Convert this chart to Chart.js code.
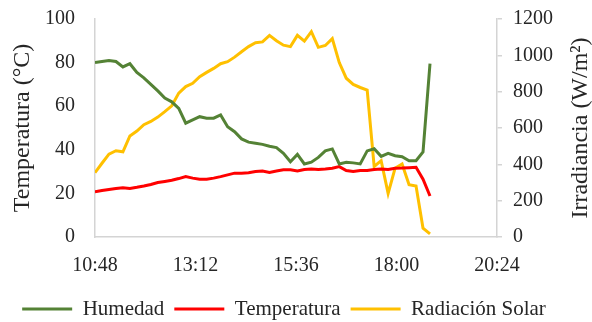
<!DOCTYPE html>
<html>
<head>
<meta charset="utf-8">
<script src="https://cdn.jsdelivr.net/npm/chart.js@4"></script>
<style>
  html, body { margin: 0; padding: 0; background: #fff; }
  #wrap { width: 592px; height: 322px; position: relative; }
</style>
</head>
<body>
<div id="wrap"><canvas id="chart"></canvas></div>
<script>
// minutes since midnight, one reading every 10 min from 10:48 to 18:48
const times = [];
for (let m = 648; m <= 1128; m += 10) times.push(m);

const humedad = [80, 80.5, 81, 80.5, 78, 79.5, 75.5, 73, 70, 67, 63.7, 62, 59, 52.2, 53.7, 55.2, 54.5, 54.5, 56, 50.6,
  48.3, 45, 43.5, 43, 42.5, 41.6, 41, 38.4, 34.5, 37.9, 33.5, 34.3, 36.5, 39.5, 40.4, 33.5, 34.3, 34, 33.5, 39.5,
  40.5, 37, 38.4, 37.3, 36.8, 35, 35, 39, 79.5];

const temperatura = [20.8, 21.3, 21.8, 22.2, 22.6, 22.3, 22.8, 23.4, 24.1, 25, 25.5, 26, 26.8, 27.7, 27, 26.5, 26.5, 27, 27.7, 28.5,
  29.3, 29.3, 29.5, 30, 30.3, 29.6, 30.3, 30.8, 30.8, 30.3, 31, 31.2, 31, 31.2, 31.5, 32.3, 30.5, 30, 30.5, 30.5,
  31, 31.2, 31, 31.5, 31.6, 31.8, 32, 26.5, 18.8];

const radiacion = [354, 406, 456, 475, 469, 556, 583, 618, 636, 660, 690, 722, 792, 828, 846, 882, 906, 928, 954, 965,
  990, 1020, 1048, 1069, 1074, 1110, 1080, 1056, 1048, 1110, 1078, 1130, 1044, 1054, 1092, 960, 874, 840, 823, 809,
  388, 420, 240, 379, 402, 288, 281, 48, 17];

const xTicks = [648, 792, 936, 1080, 1224];   // 10:48 ... 20:24
const leftTicks = [0, 20, 40, 60, 80, 100];
const rightTicks = [0, 200, 400, 600, 800, 1000, 1200];

const serif = '"Liberation Serif", "DejaVu Serif", serif';
const textColor = '#262626';
const axisColor = '#d4d4d4';

function hhmm(v) {
  const h = Math.floor(v / 60), m = Math.round(v % 60);
  return h + ':' + String(m).padStart(2, '0');
}

function pairs(vals) {
  return vals.map((v, i) => ({ x: times[i], y: v }));
}

// y labels may overhang the plot top/bottom, don't let them push the plot
function noVertPadding(s) {
  s.paddingTop = 0;
  s.paddingBottom = 0;
}

// right axis title reads bottom-to-top like the left one
const rightTitle = {
  id: 'rightTitle',
  afterDraw(chart) {
    const { ctx, chartArea } = chart;
    ctx.save();
    ctx.translate(chart.width - 11, (chartArea.top + chartArea.bottom) / 2);
    ctx.rotate(-Math.PI / 2);
    ctx.font = '24px ' + serif;
    ctx.fillStyle = textColor;
    ctx.textAlign = 'center';
    ctx.textBaseline = 'middle';
    ctx.fillText('Irradiancia (W/m²)', 0, 0);
    ctx.restore();
  }
};

const ctx = document.getElementById('chart');
new Chart(ctx, {
  type: 'line',
  data: {
    datasets: [
      { label: 'Humedad', data: pairs(humedad), borderColor: '#548235', backgroundColor: '#548235', yAxisID: 'y' },
      { label: 'Temperatura', data: pairs(temperatura), borderColor: '#ff0000', backgroundColor: '#ff0000', yAxisID: 'y' },
      { label: 'Radiación Solar', data: pairs(radiacion), borderColor: '#ffc000', backgroundColor: '#ffc000', yAxisID: 'y1' }
    ]
  },
  options: {
    responsive: true,
    maintainAspectRatio: false,
    animation: false,
    layout: { padding: { left: 4, right: 28, top: 19, bottom: -7.5 } },
    elements: {
      line: { borderWidth: 3, tension: 0, fill: false },
      point: { radius: 0 }
    },
    scales: {
      x: {
        type: 'linear',
        min: 648,
        max: 1224,
        afterBuildTicks: s => { s.ticks = xTicks.map(v => ({ value: v })); },
        afterFit: s => { s.height -= 6.5; },
        ticks: { callback: v => hhmm(v), color: textColor, font: { family: serif, size: 20 }, padding: 17, maxRotation: 0 },
        grid: { display: false, drawTicks: false },
        border: { display: true, color: axisColor, width: 1.5 }
      },
      y: {
        position: 'left',
        min: 0,
        max: 100,
        afterBuildTicks: s => { s.ticks = leftTicks.map(v => ({ value: v })); },
        afterFit: noVertPadding,
        ticks: { color: textColor, font: { family: serif, size: 20 }, padding: 20 },
        grid: { display: false, drawTicks: false },
        border: { display: true, color: axisColor, width: 1.5 },
        title: { display: true, text: 'Temperatura (°C)', color: textColor, font: { family: serif, size: 24 }, padding: { top: 4.6, bottom: -12.4 } }
      },
      y1: {
        position: 'right',
        min: 0,
        max: 1200,
        afterBuildTicks: s => { s.ticks = rightTicks.map(v => ({ value: v })); },
        afterFit: noVertPadding,
        ticks: { callback: v => String(v), color: textColor, font: { family: serif, size: 20 }, padding: 11 },
        grid: { display: true, drawOnChartArea: false, drawTicks: true, tickLength: 5, color: axisColor, lineWidth: 1.5 },
        border: { display: true, color: axisColor, width: 1.5 }
      }
    },
    plugins: {
      legend: {
        position: 'bottom',
        labels: {
          color: textColor,
          font: { family: serif, size: 21 },
          boxWidth: 50,
          boxHeight: 3,
          padding: 10,
          generateLabels: chart => Chart.defaults.plugins.legend.labels.generateLabels(chart)
            .map(l => Object.assign(l, { lineWidth: 0, fillStyle: l.strokeStyle }))
        }
      },
      tooltip: { enabled: false }
    }
  },
  plugins: [rightTitle]
});
</script>
</body>
</html>
